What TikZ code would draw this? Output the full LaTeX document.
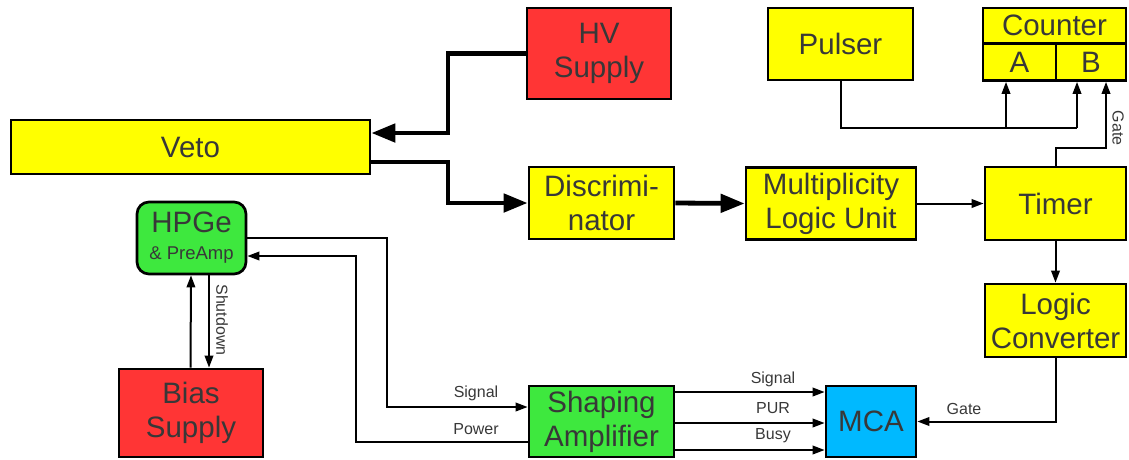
\documentclass[tikz,border=0pt]{standalone}
\usepackage{fontspec}
\setmainfont{Liberation Sans}
\usetikzlibrary{arrows.meta}
\definecolor{txt}{HTML}{383838}
\definecolor{byel}{HTML}{FFFF00}
\definecolor{bred}{HTML}{FF3535}
\definecolor{bgrn}{HTML}{3EE83E}
\definecolor{bblu}{HTML}{00B9FF}
\tikzset{
  blk/.style={draw=black, line width=2.7pt, inner sep=0pt, align=center, text=txt,
    font=\fontsize{29.5}{34}\selectfont},
  thk/.style={line width=4.8pt, -{Triangle[length=24pt,width=18pt]}},
  thn/.style={line width=2pt, -{Triangle[length=12pt,width=8.5pt]}},
  thnline/.style={line width=2pt},
  lbl/.style={font=\fontsize{16}{16}\selectfont, text=txt, inner sep=0pt},
}
\begin{document}
\begin{tikzpicture}[x=1pt,y=-1pt]
\useasboundingbox (0,0) rectangle (1129,459);
% boxes
\node[blk, fill=bred, minimum width=144pt, minimum height=91pt] (hv) at (599,53.5) {HV\\Supply};
\node[blk, fill=byel, minimum width=359pt, minimum height=54pt] (veto) at (190.5,147) {Veto};
\node[blk, fill=byel, minimum width=145pt, minimum height=72pt] (disc) at (601.5,203) {Discrimi-\\nator};
\node[blk, fill=byel, minimum width=170pt, minimum height=72pt] (mlu) at (831,203.5) {Multiplicity\\Logic Unit};
\node[blk, fill=byel, minimum width=141pt, minimum height=73pt] (timer) at (1055.5,203.5) {Timer};
\node[blk, fill=byel, minimum width=145pt, minimum height=72pt] (pulser) at (840.5,44) {Pulser};
\node[blk, fill=byel, minimum width=143pt, minimum height=35pt] (ctop) at (1054.5,25.5) {Counter};
\node[blk, fill=byel, minimum width=73pt, minimum height=37pt] (cA) at (1019.5,62) {A};
\node[blk, fill=byel, minimum width=70pt, minimum height=37pt] (cB) at (1091,62) {B};
\node[blk, fill=byel, minimum width=141pt, minimum height=73pt] (lc) at (1055.5,320.5) {Logic\\Converter};
\node[blk, fill=bblu, minimum width=90pt, minimum height=71pt] (mca) at (871,421.5) {MCA};
\node[blk, fill=bgrn, minimum width=145pt, minimum height=71pt] (sa) at (601.5,421.5) {Shaping\\Amplifier};
\node[blk, fill=bgrn, rounded corners=12pt, minimum width=109pt, minimum height=72pt] (hpge) at (191.5,238)
  {HPGe\\[-7pt]{\fontsize{18.5}{20}\selectfont\& PreAmp}};
\node[blk, fill=bred, minimum width=144pt, minimum height=88pt] (bias) at (191,413) {Bias\\Supply};
% thick connectors
\draw[thk] (hv.west) -| (448,133) -- ([yshift=14pt]veto.east);
\draw[thk] ([yshift=-15pt]veto.east) -| (448,203) -- (disc.west);
\draw[thk] (disc.east) -- (mlu.west);
% thin connectors
\draw[thn] (mlu.east) -- (timer.west);
\draw[thn] (timer.north) |- (1106,148) -- ([xshift=15pt]cB.south);
\node[lbl, rotate=-90] (gate1) at (1118,128) {Gate};
\coordinate (pj) at (1077,128);
\coordinate (pa) at (1006,128);
\draw[thnline] (pulser.south) |- (pj);
\draw[thn] (pj) -- ([xshift=-14pt]cB.south);
\draw[thn] (pa) -- ([xshift=-13.5pt]cA.south);
\draw[thn] (timer.south) -- (lc.north);
\draw[thn] (lc.south) |- (mca.east);
\node[lbl] (gate2) at (964,409) {Gate};
\draw[thn] ([yshift=29.5pt]sa.east) -- ([yshift=29.5pt]mca.west);
\draw[thn] ([yshift=-1.5pt]sa.east) -- ([yshift=-1.5pt]mca.west);
\draw[thn] ([yshift=-28.5pt]sa.east) -- ([yshift=-28.5pt]mca.west);
\node[lbl] (l1) at (773,379) {Signal};
\node[lbl] (l2) at (773,408) {PUR};
\node[lbl] (l3) at (773,436) {Busy};
\draw[thn] (hpge.east) -| (387,407) -- ([yshift=14.5pt]sa.west);
\node[lbl] (l4) at (476,393) {Signal};
\draw[thn] ([yshift=-20.5pt]sa.west) -| (356,256) -- ([yshift=-18pt]hpge.east);
\node[lbl] (l5) at (476,429) {Power};
\draw[thn] ([xshift=-0.5pt]bias.north) -- ([xshift=-0.5pt]hpge.south);
\draw[thn] ([xshift=17.5pt]hpge.south) -- ([xshift=17.5pt]hpge.south |- bias.north);
\node[lbl, rotate=-90] (l6) at (222,320) {Shutdown};
\end{tikzpicture}
\end{document}
